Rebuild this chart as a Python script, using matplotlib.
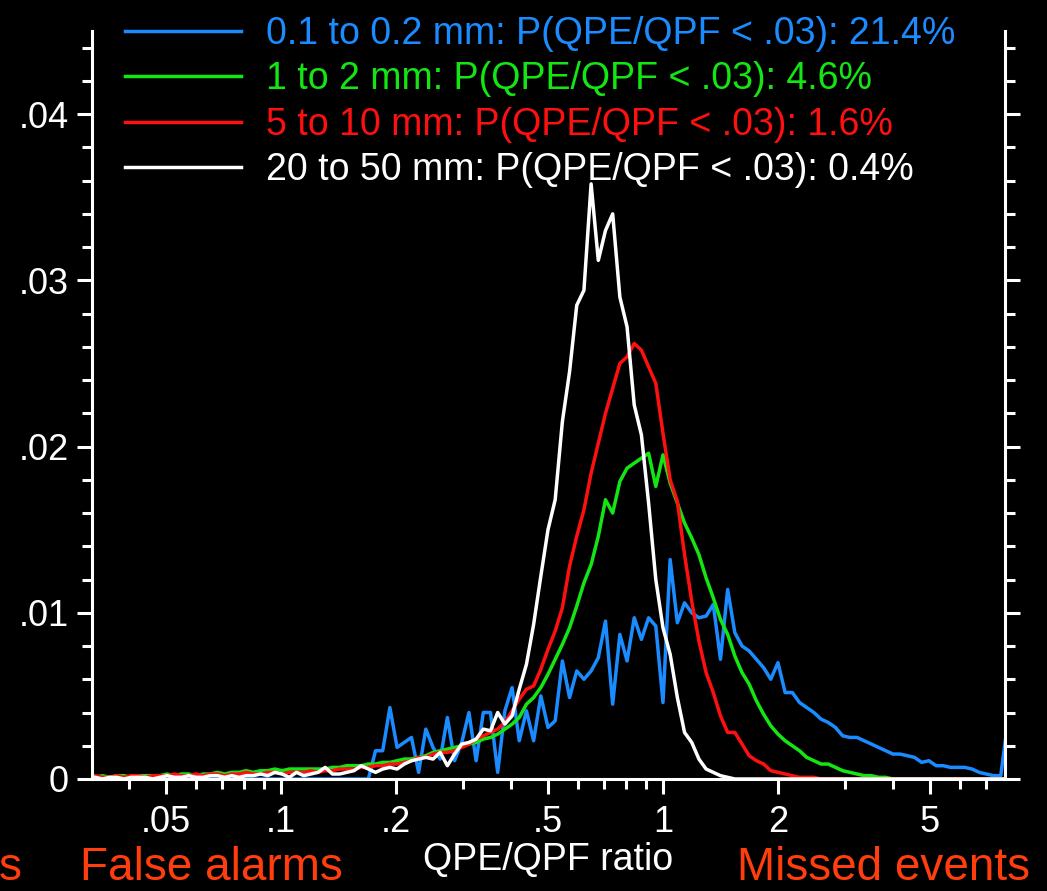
import matplotlib
matplotlib.use("Agg")
import matplotlib.pyplot as plt
import numpy as np
from matplotlib.ticker import FixedLocator, FuncFormatter

plt.rcParams['font.family'] = ['Liberation Sans', 'DejaVu Sans']

# log2 bins, 16 per octave, from 1/32 to 8
bin_index = np.arange(-80, 49)
ratio = 2.0 ** (bin_index / 16)

freq_01_02 = [0.0] * 40 + [
    0.0017, 0.0017, 0.0043, 0.0019, 0.0022, 0.0025, 0.0004, 0.0030, 0.0019, 0.0012,
    0.0037, 0.0011, 0.0022, 0.0040, 0.0011, 0.0040, 0.0040, 0.0004, 0.0041, 0.0055,
    0.0023, 0.0041, 0.0023, 0.0050, 0.0031, 0.0035, 0.0071, 0.0049, 0.0065, 0.0060,
    0.0065, 0.0073, 0.0095, 0.0045, 0.0087, 0.0071, 0.0097, 0.0084, 0.0097, 0.0092,
    0.0046, 0.0132, 0.0094, 0.0106, 0.0100, 0.0097, 0.0098, 0.0105, 0.0072, 0.0114,
    0.0088, 0.0080, 0.0077, 0.0072, 0.0067, 0.0060, 0.0070, 0.0052, 0.0052, 0.0046,
    0.0043, 0.0040, 0.0036, 0.0034, 0.0031, 0.0026, 0.0025, 0.0025, 0.0023, 0.0021,
    0.0019, 0.0017, 0.0015, 0.0015, 0.0014, 0.0013, 0.0010, 0.0011, 0.0008, 0.0008,
    0.0007, 0.0007, 0.0007, 0.0006, 0.0004, 0.0003, 0.0002, 0.0002, 0.0035,
]

freq_1_2 = [
    0.0001, 0.0001, 0.0002, 0.0001, 0.0002, 0.0002, 0.0001, 0.0002, 0.0002, 0.0002,
    0.0002, 0.0003, 0.0002, 0.0003, 0.0003, 0.0002, 0.0003, 0.0003, 0.0004, 0.0003,
    0.0004, 0.0004, 0.0005, 0.0004, 0.0005, 0.0005, 0.0006, 0.0005, 0.0006, 0.0006,
    0.0006, 0.0006, 0.0006, 0.0006, 0.0007, 0.0007, 0.0008, 0.0008, 0.0008, 0.0009,
    0.0009, 0.0010, 0.0010, 0.0011, 0.0012, 0.0012, 0.0013, 0.0014, 0.0016, 0.0017,
    0.0018, 0.0019, 0.0020, 0.0021, 0.0022, 0.0024, 0.0025, 0.0027, 0.0030, 0.0033,
    0.0037, 0.0045, 0.0049, 0.0055, 0.0063, 0.0072, 0.0081, 0.0091, 0.0104, 0.0118,
    0.0129, 0.0146, 0.0168, 0.0160, 0.0179, 0.0187, 0.0190, 0.0193, 0.0196, 0.0176,
    0.0195, 0.0178, 0.0166, 0.0154, 0.0145, 0.0135, 0.0121, 0.0109, 0.0096, 0.0087,
    0.0074, 0.0064, 0.0057, 0.0047, 0.0039, 0.0032, 0.0027, 0.0023, 0.0020, 0.0017,
    0.0013, 0.0011, 0.0009, 0.0009, 0.0007, 0.0005, 0.0004, 0.0003, 0.0002, 0.0002,
    0.0001, 0.0001, 0.0, 0.0, 0.0, 0.0, 0.0, 0.0, 0.0, 0.0,
    0.0, 0.0, 0.0, 0.0, 0.0, 0.0, 0.0, 0.0, 0.0,
]

freq_5_10 = [
    0.0001, 0.0002, 0.0001, 0.0001, 0.0002, 0.0001, 0.0002, 0.0002, 0.0001, 0.0002,
    0.0002, 0.0002, 0.0003, 0.0002, 0.0002, 0.0003, 0.0002, 0.0003, 0.0003, 0.0002,
    0.0003, 0.0003, 0.0004, 0.0003, 0.0003, 0.0004, 0.0004, 0.0003, 0.0004, 0.0004,
    0.0004, 0.0005, 0.0004, 0.0005, 0.0005, 0.0006, 0.0006, 0.0006, 0.0007, 0.0007,
    0.0008, 0.0008, 0.0009, 0.0009, 0.0010, 0.0011, 0.0013, 0.0013, 0.0015, 0.0016,
    0.0016, 0.0017, 0.0019, 0.0021, 0.0024, 0.0026, 0.0028, 0.0030, 0.0034, 0.0041,
    0.0048, 0.0054, 0.0056, 0.0066, 0.0078, 0.0089, 0.0103, 0.0128, 0.0146, 0.0162,
    0.0184, 0.0202, 0.0220, 0.0235, 0.0250, 0.0254, 0.0262, 0.0258, 0.0248, 0.0238,
    0.0208, 0.0180, 0.0167, 0.0135, 0.0107, 0.0083, 0.0064, 0.0052, 0.0038, 0.0028,
    0.0028, 0.0021, 0.0014, 0.0011, 0.0009, 0.0005, 0.0004, 0.0003, 0.0002, 0.0001,
    0.0001, 0.0001, 0.0, 0.0, 0.0, 0.0, 0.0, 0.0, 0.0, 0.0,
    0.0, 0.0, 0.0, 0.0, 0.0, 0.0, 0.0, 0.0, 0.0, 0.0,
    0.0, 0.0, 0.0, 0.0, 0.0, 0.0, 0.0, 0.0, 0.0,
]

freq_20_50 = [
    0.0001, 0.0001, 0.0000, 0.0001, 0.0001, 0.0000, 0.0001, 0.0001, 0.0001, 0.0000,
    0.0001, 0.0002, 0.0001, 0.0001, 0.0002, 0.0001, 0.0001, 0.0002, 0.0002, 0.0001,
    0.0002, 0.0001, 0.0002, 0.0002, 0.0003, 0.0002, 0.0004, 0.0003, 0.0001, 0.0004,
    0.0002, 0.0003, 0.0004, 0.0007, 0.0003, 0.0003, 0.0004, 0.0005, 0.0008, 0.0006,
    0.0004, 0.0006, 0.0007, 0.0006, 0.0009, 0.0011, 0.0012, 0.0013, 0.0012, 0.0016,
    0.0008, 0.0015, 0.0021, 0.0022, 0.0024, 0.0030, 0.0029, 0.0040, 0.0033, 0.0038,
    0.0054, 0.0069, 0.0093, 0.0122, 0.0150, 0.0168, 0.0215, 0.0245, 0.0285, 0.0294,
    0.0358, 0.0312, 0.0330, 0.0340, 0.0290, 0.0272, 0.0225, 0.0207, 0.0166, 0.0120,
    0.0091, 0.0075, 0.0049, 0.0028, 0.0022, 0.0012, 0.0006, 0.0004, 0.0002, 0.0001,
] + [0.0] * 39

series = [
    ("0.1 to 0.2 mm: P(QPE/QPF < .03): 21.4%", freq_01_02, "#1a8cff"),
    ("1 to 2 mm: P(QPE/QPF < .03): 4.6%", freq_1_2, "#14e614"),
    ("5 to 10 mm: P(QPE/QPF < .03): 1.6%", freq_5_10, "#ff1010"),
    ("20 to 50 mm: P(QPE/QPF < .03): 0.4%", freq_20_50, "#ffffff"),
]

x_major = [0.05, 0.1, 0.2, 0.5, 1, 2, 5]
x_minor = [0.04, 0.06, 0.07, 0.08, 0.09, 0.3, 0.4, 0.6, 0.7, 0.8, 0.9,
           3, 4, 6, 7]
y_major = [0, 0.01, 0.02, 0.03, 0.04]
y_minor = np.arange(0, 0.0451, 0.002)

accent = "#ff3d0d"


def short_label(v, pos):
    s = f"{v:g}"
    return s[1:] if s.startswith("0.") else s


fig = plt.figure(figsize=(10.47, 8.91), dpi=100, facecolor="black")
ax = fig.add_axes([92 / 1047, 1 - 779 / 891, 913 / 1047, 748 / 891])
ax.set_facecolor("black")

lines = []
for label, freq, color in series:
    (ln,) = ax.plot(ratio, freq, color=color, lw=2.5, label=label)
    lines.append(ln)

ax.set_xscale("log")
ax.set_xlim(0.032, 7.86)
ax.set_ylim(0, 0.045)

ax.xaxis.set_major_locator(FixedLocator(x_major))
ax.xaxis.set_minor_locator(FixedLocator(x_minor))
ax.xaxis.set_major_formatter(FuncFormatter(short_label))
ax.xaxis.set_minor_formatter(FuncFormatter(lambda v, p: ""))
ax.yaxis.set_major_locator(FixedLocator(y_major))
ax.yaxis.set_minor_locator(FixedLocator(y_minor))
ax.yaxis.set_major_formatter(FuncFormatter(short_label))

for side in ["left", "right", "bottom"]:
    ax.spines[side].set_color("white")
    ax.spines[side].set_linewidth(2.2)
ax.spines["top"].set_visible(False)

ax.tick_params(which="both", direction="out", colors="white", width=2.2,
               labelsize=26, right=True, labelright=False)
ax.tick_params(which="major", length=10.5)
ax.tick_params(which="minor", length=7)
ax.tick_params(axis="y", pad=6)
ax.tick_params(axis="x", pad=8)

ax.set_xlabel("QPE/QPF ratio", color="white", fontsize=27, labelpad=2)

fig.legend(handles=lines, loc="upper left", bbox_to_anchor=(125 / 1047, 1 - 16 / 891),
           frameon=False, fontsize=27, handlelength=3.1, handletextpad=0.65,
           labelspacing=0.25, borderpad=0, borderaxespad=0, labelcolor="linecolor")

# outcome labels under the axis
fig.text(80 / 1047, 1 - 880 / 891, "False alarms", color=accent, fontsize=33,
         ha="left", va="baseline")
fig.text(1030 / 1047, 1 - 880 / 891, "Missed events", color=accent, fontsize=33,
         ha="right", va="baseline")
fig.text(22 / 1047, 1 - 880 / 891, "s", color=accent, fontsize=33,
         ha="right", va="baseline")

fig.savefig("out.png", dpi=100, facecolor="black")
